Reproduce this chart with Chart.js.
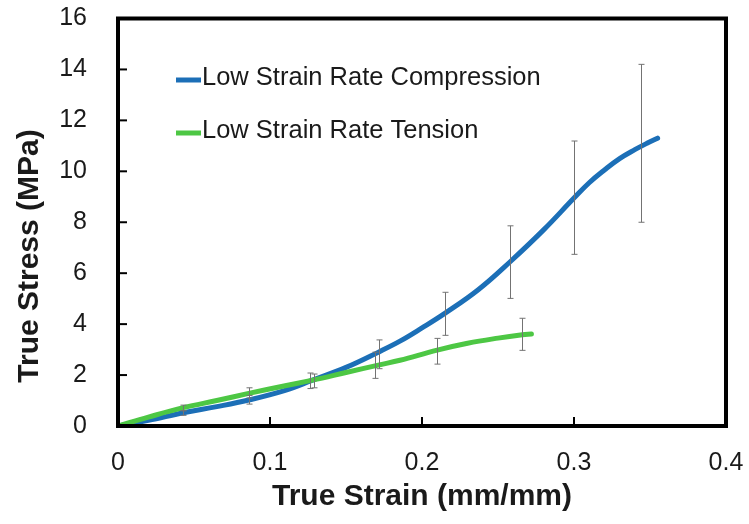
<!DOCTYPE html>
<html>
<head>
<meta charset="utf-8">
<script src="https://cdn.jsdelivr.net/npm/chart.js@4.4.1/dist/chart.umd.min.js"></script>
<style>
  html, body { margin: 0; padding: 0; background: #fff; }
  #wrap { width: 749px; height: 524px; position: relative; }
</style>
</head>
<body>
<div id="wrap"><canvas id="c" width="749" height="524"></canvas></div>
<script>
// ---- data ----
const seriesNames = ["Low Strain Rate Compression", "Low Strain Rate Tension"];
const xAxisTitle = "True Strain (mm/mm)";
const yAxisTitle = "True Stress (MPa)";

const strainComp = [0, 0.02, 0.043, 0.065, 0.086, 0.11, 0.128, 0.15, 0.172, 0.1855, 0.2, 0.215, 0.237, 0.258, 0.28, 0.3, 0.31, 0.32, 0.33, 0.34, 0.348, 0.355];
const stressComp = [0, 0.22, 0.52, 0.76, 1.02, 1.4, 1.8, 2.3, 2.92, 3.33, 3.85, 4.42, 5.35, 6.45, 7.7, 8.95, 9.55, 10.05, 10.5, 10.85, 11.1, 11.3];

const strainTen = [0, 0.02, 0.043, 0.065, 0.086, 0.11, 0.128, 0.15, 0.172, 0.1855, 0.21, 0.23, 0.25, 0.266, 0.272];
const stressTen = [0, 0.35, 0.72, 1.0, 1.28, 1.58, 1.8, 2.1, 2.4, 2.58, 2.98, 3.25, 3.45, 3.58, 3.61];

const errStrainComp = [0.043, 0.086, 0.129, 0.172, 0.215, 0.258, 0.3, 0.344];
const errLowComp    = [0.42, 0.86, 1.5, 2.25, 3.56, 5.01, 6.74, 8.0];
const errHighComp   = [0.6, 1.2, 2.04, 3.38, 5.25, 7.86, 11.19, 14.2];

const errStrainTen = [0.043, 0.086, 0.126, 0.169, 0.21, 0.266];
const errLowTen    = [0.6, 1.1, 1.47, 1.87, 2.43, 2.97];
const errHighTen   = [0.82, 1.5, 2.08, 2.9, 3.44, 4.23];

const xTickLabels = ["0", "0.1", "0.2", "0.3", "0.4"];
const yTickLabels = ["0", "2", "4", "6", "8", "10", "12", "14", "16"];

// ---- build ----
const toPts = (xs, ys) => xs.map((x, i) => ({ x: x, y: ys[i] }));
const BLUE = "#1c6fb7";
const GREEN = "#4dc744";
const FONT = "'Liberation Sans', Arial, sans-serif";

const errorBars = [
  { xs: errStrainComp, lo: errLowComp, hi: errHighComp },
  { xs: errStrainTen, lo: errLowTen, hi: errHighTen }
];

const decorPlugin = {
  id: "decor",
  afterDatasetsDraw(chart) {
    const ctx = chart.ctx;
    const xs = chart.scales.x, ys = chart.scales.y;
    const a = chart.chartArea;
    ctx.save();
    // error bars
    ctx.strokeStyle = "#737373";
    ctx.lineWidth = 1;
    errorBars.forEach(eb => {
      eb.xs.forEach((xv, i) => {
        const px = Math.round(xs.getPixelForValue(xv)) + 0.5;
        const pl = ys.getPixelForValue(eb.lo[i]);
        const ph = ys.getPixelForValue(eb.hi[i]);
        ctx.beginPath();
        ctx.moveTo(px, pl); ctx.lineTo(px, ph);
        ctx.moveTo(px - 3, pl); ctx.lineTo(px + 3, pl);
        ctx.moveTo(px - 3, ph); ctx.lineTo(px + 3, ph);
        ctx.stroke();
      });
    });
    // inward tick marks
    ctx.strokeStyle = "#000";
    ctx.lineWidth = 2;
    ys.ticks.forEach(t => {
      if (t.value <= ys.min || t.value >= ys.max) return;
      const py = ys.getPixelForValue(t.value);
      ctx.beginPath(); ctx.moveTo(a.left, py); ctx.lineTo(a.left + 9, py); ctx.stroke();
    });
    xs.ticks.forEach(t => {
      if (t.value <= xs.min || t.value >= xs.max) return;
      const px = xs.getPixelForValue(t.value);
      ctx.beginPath(); ctx.moveTo(px, a.bottom); ctx.lineTo(px, a.bottom - 9); ctx.stroke();
    });
    // plot box
    ctx.lineWidth = 4;
    ctx.strokeRect(a.left, a.top, a.right - a.left, a.bottom - a.top);
    // legend
    const items = [
      { label: chart.data.datasets[1].label, color: chart.data.datasets[1].borderColor, y: 80 },
      { label: chart.data.datasets[0].label, color: chart.data.datasets[0].borderColor, y: 133 }
    ];
    ctx.font = "25.5px " + FONT;
    ctx.textBaseline = "middle";
    ctx.textAlign = "left";
    items.forEach(it => {
      ctx.strokeStyle = it.color;
      ctx.lineWidth = 5;
      ctx.lineCap = "butt";
      ctx.beginPath(); ctx.moveTo(176, it.y); ctx.lineTo(201, it.y); ctx.stroke();
      ctx.fillStyle = "#1a1a1a";
      ctx.fillText(it.label, 202, it.y - 2);
    });
    // y axis title (rotated), offset like the original
    ctx.save();
    ctx.translate(30, 256);
    ctx.rotate(-Math.PI / 2);
    ctx.font = "bold 30px " + FONT;
    ctx.textAlign = "center";
    ctx.textBaseline = "middle";
    ctx.fillStyle = "#1a1a1a";
    ctx.fillText(yAxisTitle, 0, 0);
    ctx.restore();
    ctx.restore();
  }
};

const zeroPad = s => { s.paddingTop = 0; s.paddingBottom = 0; s.paddingLeft = 0; s.paddingRight = 0; };

new Chart(document.getElementById("c"), {
  type: "line",
  data: {
    datasets: [
      { label: seriesNames[1], data: toPts(strainTen, stressTen), borderColor: GREEN, order: 0 },
      { label: seriesNames[0], data: toPts(strainComp, stressComp), borderColor: BLUE, order: 1 }
    ]
  },
  options: {
    responsive: false,
    animation: false,
    layout: { padding: { left: 0, right: 23, top: 18.5, bottom: 0 } },
    elements: {
      line: { borderWidth: 5, fill: false, tension: 0.4, borderCapStyle: "round", borderJoinStyle: "round" },
      point: { radius: 0, hoverRadius: 0 }
    },
    plugins: { legend: { display: false }, tooltip: { enabled: false } },
    scales: {
      x: {
        type: "linear", min: 0, max: 0.4,
        grid: { display: false, drawTicks: false },
        border: { display: false },
        ticks: {
          stepSize: 0.1, padding: 22, color: "#1a1a1a",
          font: { family: FONT, size: 25 },
          callback: (v, i) => xTickLabels[i]
        },
        title: {
          display: true, text: xAxisTitle, color: "#1a1a1a",
          font: { family: FONT, size: 30, weight: "bold" },
          padding: { top: 0, bottom: 9 }
        },
        afterFit: s => { s.height = 98; zeroPad(s); }
      },
      y: {
        type: "linear", min: 0, max: 16,
        grid: { display: false, drawTicks: false },
        border: { display: false },
        ticks: {
          stepSize: 2, padding: 31, color: "#1a1a1a",
          font: { family: FONT, size: 25 },
          callback: (v, i) => yTickLabels[i]
        },
        title: { display: false },
        afterFit: s => { s.width = 118; zeroPad(s); }
      }
    }
  },
  plugins: [decorPlugin]
});
</script>
</body>
</html>
